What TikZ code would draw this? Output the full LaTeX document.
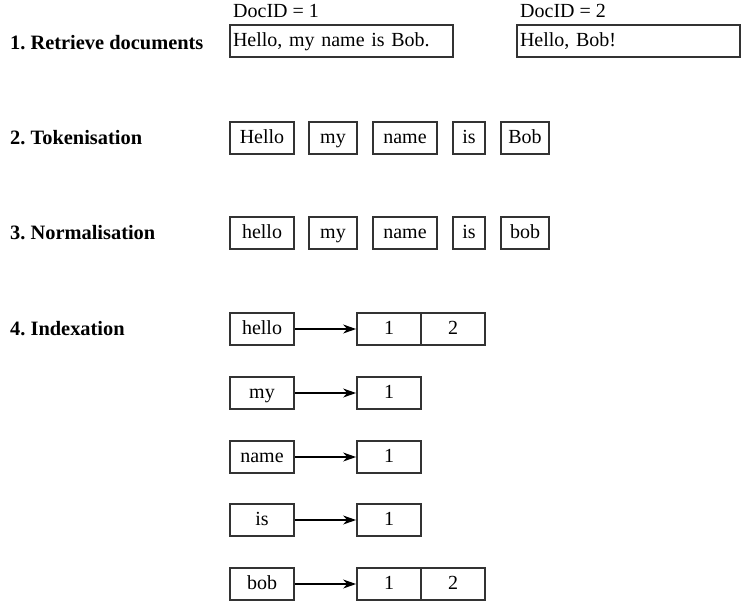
\documentclass[tikz,border=0pt]{standalone}
\usepackage{fontspec}
\setmainfont{Liberation Serif}
\usetikzlibrary{arrows.meta}
\frenchspacing
\definecolor{edge}{RGB}{51,51,51}
\tikzset{
  box/.style={draw=edge, line width=1.8pt, minimum height=32pt, inner sep=0pt, text height=14pt, text depth=4pt, font=\fontsize{20}{24}\selectfont},
  docbox/.style={box, minimum width=223pt, text width=217pt, align=left, inner xsep=3pt},
  steplabel/.style={anchor=west, inner sep=0pt, font=\fontsize{20.4}{24}\selectfont\bfseries},
  plain/.style={inner sep=0pt, font=\fontsize{20}{24}\selectfont},
  arr/.style={draw=black, line width=1.5pt, -{Stealth[length=13pt,width=9pt]}}
}
\begin{document}
\begin{tikzpicture}[x=1pt,y=-1pt]
\useasboundingbox (0,0) rectangle (751,603);
% step labels
\node[steplabel] (s1) at (10,43) {1. Retrieve documents};
\node[steplabel] (s2) at (10,138) {2. Tokenisation};
\node[steplabel] (s3) at (10,233) {3. Normalisation};
\node[steplabel] (s4) at (10,329) {4. Indexation};
% docs
\node[plain, anchor=west] (id1) at (233,11) {DocID = 1};
\node[plain, anchor=west] (id2) at (520,11) {DocID = 2};
\node[docbox] (d1) at (341.5,41) {Hello, my name is Bob.};
\node[docbox] (d2) at (628.5,41) {Hello, Bob!};
% tokens
\foreach \n/\t/\cx/\w in {a/Hello/262/64, b/my/333/48, c/name/405/64, d/is/469/32, e/Bob/525/48}{
  \node[box, minimum width=\w pt] (t\n) at (\cx,138) {\t};
}
\foreach \n/\t/\cx/\w in {a/hello/262/64, b/my/333/48, c/name/405/64, d/is/469/32, e/bob/525/48}{
  \node[box, minimum width=\w pt] (m\n) at (\cx,233) {\t};
}
% index
\foreach \n/\t/\cy in {a/hello/329, b/my/393, c/name/457, d/is/520, e/bob/584}{
  \node[box, minimum width=64pt] (k\n) at (262,\cy) {\t};
  \node[box, minimum width=64pt] (p\n) at (389,\cy) {1};
  \draw[arr] (k\n.east) -- (p\n.west);
}
\node[box, minimum width=64pt] (qa) at (453,329) {2};
\node[box, minimum width=64pt] (qe) at (453,584) {2};
\end{tikzpicture}
\end{document}
